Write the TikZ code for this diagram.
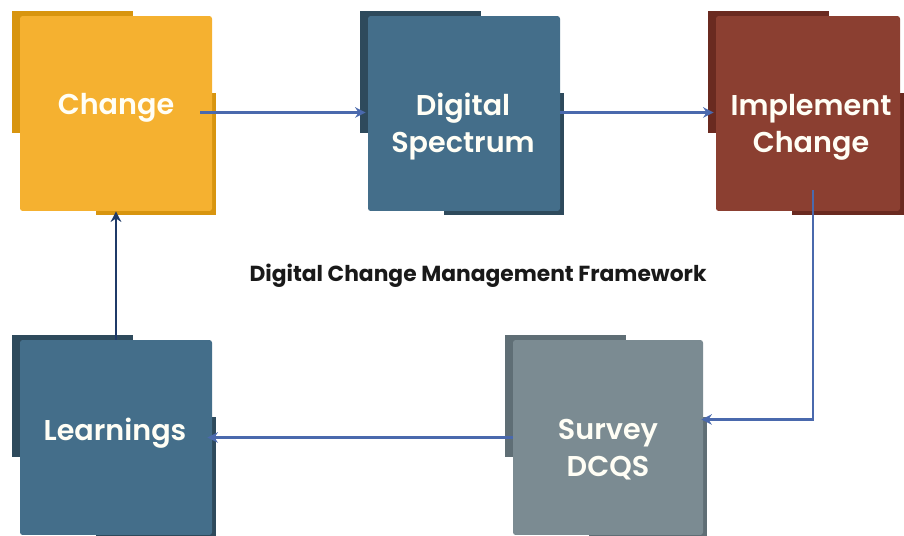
\documentclass[tikz,border=0pt]{standalone}
\usepackage{fontspec}
\setmainfont{Poppins}[BoldFont={Poppins SemiBold}]
\newfontfamily\heavyfont{Poppins Bold}
\usetikzlibrary{calc,arrows.meta}
\definecolor{chgfill}{HTML}{F5B130}
\definecolor{chgshade}{HTML}{D8950F}
\definecolor{bluefill}{HTML}{446E8A}
\definecolor{blueshade}{HTML}{2E4A5C}
\definecolor{redfill}{HTML}{8B3F31}
\definecolor{redshade}{HTML}{6A2A20}
\definecolor{greyfill}{HTML}{7B8B92}
\definecolor{greyshade}{HTML}{5F6E75}
\definecolor{arrblue}{HTML}{4A69AD}
\definecolor{arrnavy}{HTML}{1F3A68}
\tikzset{
  box/.style={rectangle, rounded corners=1.5pt, minimum height=3.9cm, inner sep=0pt},
  lbl/.style={text=white!96!yellow, font=\bfseries\fontsize{16.3}{21}\selectfont, align=center},
  ttl/.style={text=black!90, font=\heavyfont\fontsize{12.4}{15}\selectfont},
  arr/.style={->, draw=arrblue, line width=1.4pt}
}
\begin{document}
\begin{tikzpicture}[>={Stealth[length=6pt,width=6pt]}, x=0.02cm, y=-0.02cm]
        \useasboundingbox (0,0) rectangle (904,536);
        \foreach \nm/\x/\y/\w/\fc/\sc in {chg/20/16/192/chgfill/chgshade, dig/368/16/192/bluefill/blueshade,
            imp/716/16/184/redfill/redshade, lrn/20/340/192/bluefill/blueshade, srv/513/340/190/greyfill/greyshade}
            { \fill[\sc] (\x-8,\y-5) rectangle (\x+113,\y+117);
              \fill[\sc] (\x+76,\y+77) rectangle (\x+\w+4,\y+199);
              \node[box, fill=\fc, minimum width=\w*0.02cm] (\nm) at (\x+\w/2,\y+97.5) {}; }
        \node[lbl] (chgtxt) at (116,108) {Change};
        \node[lbl] (digtxt) at (463,127) {Digital\\Spectrum};
        \node[lbl] (imptxt) at (811,127) {Implement\\Change};
        \node[lbl] (lrntxt) at (115,433) {Learnings};
        \node[lbl] (srvtxt) at (608,450) {Survey\\DCQS};
        \node[ttl] (title) at (478,276) {Digital Change Management Framework};
        \draw[arr] ($(chg.east)+(-12,-1)$)--($(dig.west)+(-2,-1)$);
        \draw[arr] ($(dig.east)+(0,-1)$)--($(imp.west)+(-2,-1)$);
        \draw[arr] ($(imp.south)+(5,-21)$) |- ($(srv.east)+(-2,-18)$);
        \draw[arr] (srv.west)--($(lrn.east)+(-5,0)$);
        \draw[arr, draw=arrnavy] (lrn.north)--(chg.south);
    \end{tikzpicture}
\end{document}
